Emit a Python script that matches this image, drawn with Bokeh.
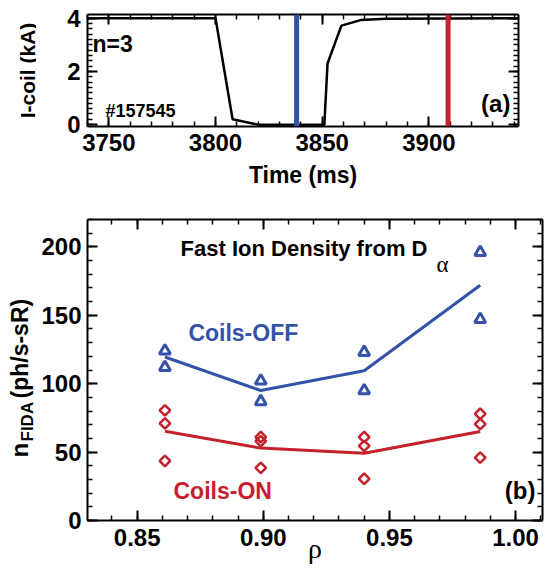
import numpy as np
from bokeh.plotting import figure
from bokeh.layouts import column, row
from bokeh.models import (Range1d, SingleIntervalTicker, LinearAxis, Label, Span,
                          PrintfTickFormatter)
from bokeh.embed import file_html
from bokeh.resources import INLINE

# ---------------- data ----------------
# panel (a): coil current vs time
coil_time = [3740, 3800, 3808, 3820, 3851, 3852.5, 3859, 3868, 3880, 3942]
coil_current = [4.0, 4.0, 0.2, 0.0, 0.0, 2.3, 3.72, 3.93, 3.98, 4.0]
time_coils_off = 3838
time_coils_on = 3909

# panel (b): fast-ion density vs rho
rho_off = [0.861, 0.861, 0.899, 0.899, 0.940, 0.940, 0.986, 0.986]
nfida_off = [124, 112, 102, 87, 123, 95, 196, 147]
rho_line = [0.861, 0.899, 0.940, 0.986]
nfida_off_avg = [119.5, 95, 109.5, 172]
rho_on = [0.861, 0.861, 0.861, 0.899, 0.899, 0.899, 0.940, 0.940, 0.940, 0.986, 0.986, 0.986]
nfida_on = [80.5, 71, 43.5, 61, 58, 38.5, 61, 54.5, 30.5, 78, 70.5, 46]
nfida_on_avg = [65.3, 52.9, 49.2, 65.1]

BLUE = "#3453A8"
RED = "#C4212C"
FONT = "Liberation Sans"
SERIF = "Liberation Serif"
TICK_SIZE = "24px"


def style_axis(ax, labels=True, size=TICK_SIZE):
    ax.axis_line_width = 2
    ax.axis_line_color = "black"
    ax.major_tick_in = 10
    ax.major_tick_out = 0
    ax.minor_tick_in = 5
    ax.minor_tick_out = 0
    ax.major_tick_line_width = 2
    ax.minor_tick_line_width = 1.5
    ax.major_label_text_font = FONT
    ax.major_label_text_font_style = "bold"
    if labels:
        ax.major_label_text_color = "black"
        ax.major_label_text_font_size = size
        ax.major_label_standoff = 7
    else:
        ax.major_label_text_color = None
        ax.major_label_text_font_size = "1px"
        ax.major_label_standoff = 0
    ax.axis_label_text_font = FONT
    ax.axis_label_text_font_style = "bold"
    ax.axis_label_text_color = "black"


def lab(p, x, y, text, size, color="black", align="left", baseline="middle",
        angle=0.0, font=FONT, style="bold"):
    p.add_layout(Label(x=x, y=y, text=text, text_font=font,
                       text_font_size=size, text_font_style=style,
                       text_color=color, text_align=align,
                       text_baseline=baseline, angle=angle))


def label_column(height, frame_h):
    # its frame gets aligned with the neighbouring plot's frame in the row;
    # y = pixels above the bottom of that frame
    f = figure(width=36, height=height, x_range=Range1d(0, 36),
               y_range=Range1d(0, frame_h), output_backend="svg",
               toolbar_location=None, x_axis_type=None, y_axis_type=None,
               min_border=0, min_border_left=0, min_border_right=0,
               min_border_top=0, min_border_bottom=0)
    f.grid.visible = False
    f.outline_line_color = None
    return f


# ---------------- panel (a) ----------------
H1 = 206
p1 = figure(width=508, height=H1, x_range=Range1d(3740, 3942),
            y_range=Range1d(-0.07, 4.14), output_backend="svg",
            toolbar_location=None, x_axis_type=None, y_axis_type=None,
            min_border_left=51, min_border_right=26, min_border_top=14,
            min_border_bottom=80)
p1.grid.visible = False
p1.outline_line_color = None

xt1 = SingleIntervalTicker(interval=50, num_minor_ticks=5)
yt1 = SingleIntervalTicker(interval=2, num_minor_ticks=10)
ax = LinearAxis(ticker=xt1)
style_axis(ax, True)
ax.axis_label = "Time (ms)"
ax.axis_label_text_font_size = "23px"
ax.axis_label_standoff = 8
p1.add_layout(ax, "below")
ax = LinearAxis(ticker=xt1)
style_axis(ax, False)
p1.add_layout(ax, "above")
ax = LinearAxis(ticker=yt1)
style_axis(ax, True)
p1.add_layout(ax, "left")
ax = LinearAxis(ticker=yt1)
style_axis(ax, False)
p1.add_layout(ax, "right")

p1.add_layout(Span(location=time_coils_off, dimension="height",
                   line_color=BLUE, line_width=5))
p1.add_layout(Span(location=time_coils_on, dimension="height",
                   line_color=RED, line_width=5))
p1.line(coil_time, coil_current, line_color="black", line_width=2.5)

lab(p1, 3742.3, 3.02, "n=3", "23px")
lab(p1, 3748.4, 0.5, "#157545", "18px")
lab(p1, 3938.2, 0.8, "(a)", "24px", align="right")

la = label_column(H1, 112)
lab(la, 27, 56, "I-coil (kA)", "21px", align="center", angle=np.pi / 2)

# ---------------- panel (b) ----------------
H2 = 364
p2 = figure(width=508, height=H2, x_range=Range1d(0.8303, 1.0107),
            y_range=Range1d(0, 220), output_backend="svg",
            toolbar_location=None, x_axis_type=None, y_axis_type=None,
            min_border_left=51, min_border_right=2, min_border_top=13,
            min_border_bottom=50)
p2.grid.visible = False
p2.outline_line_color = None

xt2 = SingleIntervalTicker(interval=0.05, num_minor_ticks=5)
yt2 = SingleIntervalTicker(interval=50, num_minor_ticks=5)
ax = LinearAxis(ticker=xt2, formatter=PrintfTickFormatter(format="%.2f"))
style_axis(ax, True)
ax.major_label_standoff = 8
ax.axis_label = "ρ"
ax.axis_label_text_font = SERIF
ax.axis_label_text_font_style = "normal"
ax.axis_label_text_font_size = "28px"
ax.axis_label_standoff = -16
p2.add_layout(ax, "below")
ax = LinearAxis(ticker=xt2)
style_axis(ax, False)
p2.add_layout(ax, "above")
ax = LinearAxis(ticker=yt2)
style_axis(ax, True)
ax.major_label_standoff = 6
p2.add_layout(ax, "left")
ax = LinearAxis(ticker=yt2)
style_axis(ax, False)
p2.add_layout(ax, "right")

p2.line(rho_line, nfida_off_avg, line_color=BLUE, line_width=3)
p2.line(rho_line, nfida_on_avg, line_color=RED, line_width=3)
p2.scatter(rho_off, nfida_off, marker="triangle", size=11, line_width=3,
           line_color=BLUE, fill_color=None)
p2.scatter(rho_on, nfida_on, marker="square", angle=np.pi / 4, size=7.5,
           line_width=2.5, line_color=RED, fill_color=None)

lab(p2, 0.8672, 199, "Fast Ion Density from D", "22px")
lab(p2, 0.9687, 187, "α", "23px", font=SERIF, style="normal")
lab(p2, 0.8703, 136.8, "Coils-OFF", "23px", color=BLUE)
lab(p2, 0.8644, 21.9, "Coils-ON", "23px", color=RED)
lab(p2, 1.0079, 21.9, "(b)", "24px", align="right")

lb = label_column(H2, 301)
# rotated y label  n_FIDA (ph/s-sR)
lab(lb, 19, 63, "n", "24px", baseline="alphabetic", angle=np.pi / 2)
lab(lb, 27, 79, "FIDA", "17px", baseline="alphabetic", angle=np.pi / 2)
lab(lb, 19, 122, "(ph/s-sR)", "23px", baseline="alphabetic", angle=np.pi / 2)

layout = column(row(la, p1, spacing=0), row(lb, p2, spacing=0), spacing=0)
open("out.html", "w").write(file_html(layout, INLINE))
